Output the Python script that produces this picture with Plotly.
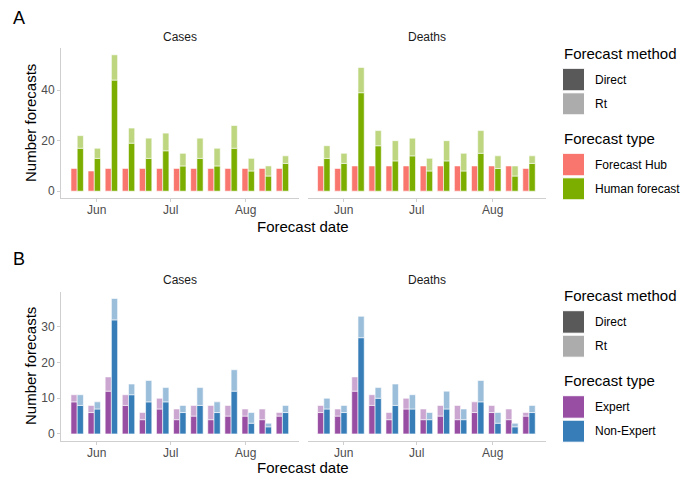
import plotly.graph_objects as go
import pandas as pd

# ---------------- data ----------------
forecast_dates = pd.date_range("2021-05-24", periods=13, freq="7D")
tick_vals = ["2021-06-01", "2021-07-01", "2021-08-01"]
tick_text = ["Jun", "Jul", "Aug"]

# Panel A
hub_cases = [9, 8, 9, 9, 9, 9, 9, 9, 9, 9, 9, 9, 9]
hub_deaths = [10, 9, 10, 10, 10, 10, 10, 10, 10, 10, 10, 10, 9]
human_cases_direct = [17, 13, 44, 19, 13, 16, 10, 13, 10, 17, 8, 6, 11]
human_cases_rt = [5, 4, 10, 6, 8, 7, 5, 8, 7, 9, 5, 4, 3]
human_deaths_direct = [13, 11, 39, 18, 12, 14, 8, 12, 8, 15, 9, 6, 11]
human_deaths_rt = [5, 4, 10, 6, 8, 7, 5, 8, 7, 9, 5, 4, 3]

# Panel B
expert_cases_direct = [9, 6, 12, 8, 4, 7, 4, 5, 4, 5, 5, 4, 5]
expert_cases_rt = [2, 2, 4, 3, 2, 3, 3, 3, 4, 3, 2, 3, 1]
nonexp_cases_direct = [8, 7, 32, 11, 9, 9, 6, 8, 6, 12, 3, 2, 6]
nonexp_cases_rt = [3, 2, 6, 3, 6, 4, 2, 5, 3, 6, 3, 1, 2]
expert_deaths_direct = [6, 5, 12, 8, 4, 7, 4, 5, 4, 6, 6, 4, 5]
expert_deaths_rt = [2, 2, 4, 3, 2, 3, 3, 3, 4, 3, 2, 3, 1]
nonexp_deaths_direct = [7, 6, 27, 10, 8, 7, 4, 7, 4, 9, 3, 2, 6]
nonexp_deaths_rt = [3, 2, 6, 3, 6, 4, 2, 5, 3, 6, 3, 1, 2]

# ---------------- style ----------------
W, H = 689, 484
FONT = "Liberation Sans, Arial, Helvetica, sans-serif"
DAY = 86400000
BW = 2.55 * DAY
RED, RED_L = "#F8766D", "rgba(248,118,109,0.5)"
GREEN, GREEN_L = "#7CAE00", "rgba(124,174,0,0.5)"
PURPLE, PURPLE_L = "#984EA3", "rgba(152,78,163,0.5)"
BLUE, BLUE_L = "#377EB8", "rgba(55,126,184,0.5)"
AXIS_C = "#cfcfcf"
TICK_C = "#4d4d4d"

def fx(px):
    return px / W

def fy(py):
    return 1 - py / H

fig = go.Figure()

panels = {
    "A_cases": ("x", "y", (61, 299), (48, 198), [-2.7, 56.7]),
    "A_deaths": ("x2", "y2", (307.6, 545.6), (48, 198), [-2.7, 56.7]),
    "B_cases": ("x3", "y3", (61, 299), (291.7, 440.7), [-1.9, 39.9]),
    "B_deaths": ("x4", "y4", (307.6, 545.6), (291.7, 440.7), [-1.9, 39.9]),
}

def add_bar(panel, y, base, color, offset):
    xa, ya = panels[panel][0], panels[panel][1]
    fig.add_trace(go.Bar(
        x=forecast_dates, y=y, base=base, width=[BW] * len(y),
        offset=[offset] * len(y),
        marker=dict(color=color, line=dict(color="white", width=0.6)),
        xaxis=xa, yaxis=ya, showlegend=False, hoverinfo="skip"))

for panel, hub, direct, rt in [
    ("A_cases", hub_cases, human_cases_direct, human_cases_rt),
    ("A_deaths", hub_deaths, human_deaths_direct, human_deaths_rt),
]:
    add_bar(panel, hub, None, RED, -BW)
    add_bar(panel, direct, None, GREEN, 0)
    add_bar(panel, rt, direct, GREEN_L, 0)

for panel, ed, er, nd, nr in [
    ("B_cases", expert_cases_direct, expert_cases_rt, nonexp_cases_direct, nonexp_cases_rt),
    ("B_deaths", expert_deaths_direct, expert_deaths_rt, nonexp_deaths_direct, nonexp_deaths_rt),
]:
    add_bar(panel, ed, None, PURPLE, -BW)
    add_bar(panel, er, ed, PURPLE_L, -BW)
    add_bar(panel, nd, None, BLUE, 0)
    add_bar(panel, nr, nd, BLUE_L, 0)

layout = dict(
    width=W, height=H, margin=dict(l=0, r=0, t=0, b=0),
    paper_bgcolor="white", plot_bgcolor="white", barmode="overlay",
    font=dict(family=FONT, color="#000000"), showlegend=False,
)
ann = []
for key, (xa, ya, (x0, x1), (y0, y1), yr) in panels.items():
    xname = "xaxis" + xa[1:]
    yname = "yaxis" + ya[1:]
    is_left = key.endswith("cases")
    layout[xname] = dict(
        domain=[fx(x0), fx(x1)], anchor=ya, type="date",
        range=["2021-05-17 09:00", "2021-08-22 19:00"],
        tickvals=tick_vals, showticklabels=False,
        showline=True, linecolor=AXIS_C, linewidth=1,
        ticks="outside", ticklen=3, tickcolor=AXIS_C,
        showgrid=False, zeroline=False, fixedrange=True, automargin=False,
    )
    # x tick labels placed closer to the axis (ggplot style)
    for tv, tt in zip(tick_vals, tick_text):
        ann.append(dict(x=tv, xref=xa, y=fy(y1 + 12.5), yref="paper", text=tt,
                        showarrow=False, xanchor="center", yanchor="middle",
                        font=dict(size=12, color=TICK_C, family=FONT)))
    layout[yname] = dict(
        domain=[fy(y1), fy(y0)], anchor=xa, range=yr,
        showline=is_left, linecolor=AXIS_C, linewidth=1,
        ticks="outside" if is_left else "", ticklen=3, tickcolor=AXIS_C,
        showticklabels=is_left,
        tickvals=[0, 20, 40] if key.startswith("A") else [0, 10, 20, 30],
        tickfont=dict(size=12, color=TICK_C),
        showgrid=False, zeroline=False, fixedrange=True, automargin=False,
    )
fig.update_layout(**layout)

def text(x, y, s, size, color="#000000", xanchor="center", angle=0):
    ann.append(dict(x=fx(x), y=fy(y), xref="paper", yref="paper", text=s,
                    showarrow=False, xanchor=xanchor, yanchor="middle",
                    textangle=angle, font=dict(size=size, color=color, family=FONT)))

text(11, 18, "A", 18, xanchor="left")
text(11, 259, "B", 18, xanchor="left")
for yy in (37.5, 280):
    text(180, yy, "Cases", 12, color="#1a1a1a")
    text(426.6, yy, "Deaths", 12, color="#1a1a1a")
text(30, 123, "Number forecasts", 15, angle=-90)
text(30, 366, "Number forecasts", 15, angle=-90)
text(303, 226, "Forecast date", 15)
text(303, 467, "Forecast date", 15)

shapes = []
def key_box(x0, y0, x1, y1, color):
    shapes.append(dict(type="rect", xref="paper", yref="paper",
                       x0=fx(x0), x1=fx(x1), y0=fy(y1), y1=fy(y0),
                       fillcolor=color, line=dict(color="white", width=1)))

def legend(top, labels2, colors2):
    text(561.5, top, "Forecast method", 15, xanchor="left")
    key_box(562.5, top + 15, 584.5, top + 37.5, "#595959")
    key_box(562.5, top + 39.5, 584.5, top + 61.5, "#ACACAC")
    text(593, top + 26.5, "Direct", 12, xanchor="left")
    text(593, top + 50.5, "Rt", 12, xanchor="left")
    t2 = top + 85
    text(561.5, t2, "Forecast type", 15, xanchor="left")
    key_box(562.5, t2 + 15, 584.5, t2 + 37.5, colors2[0])
    key_box(562.5, t2 + 39.5, 584.5, t2 + 61.5, colors2[1])
    text(593, t2 + 26.5, labels2[0], 12, xanchor="left")
    text(593, t2 + 50.5, labels2[1], 12, xanchor="left")

legend(53.3, ["Forecast Hub", "Human forecast"], [RED, GREEN])
legend(295.7, ["Expert", "Non-Expert"], [PURPLE, BLUE])

fig.update_layout(annotations=ann, shapes=shapes)
fig.write_html("out.html", config={"displayModeBar": False},
               post_script="document.body.style.margin='0';document.body.style.padding='0';")
